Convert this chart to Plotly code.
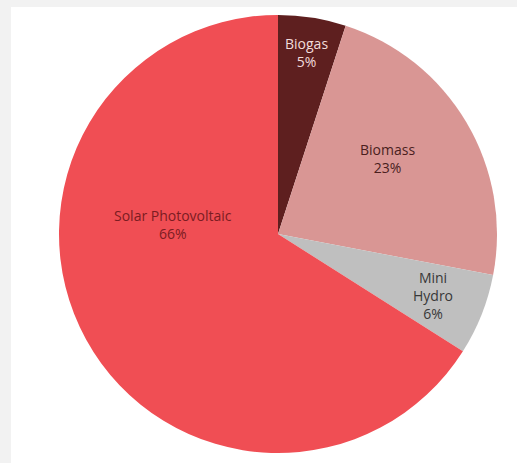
import math
import plotly.graph_objects as go

labels = ["Biogas", "Biomass", "Mini Hydro", "Solar Photovoltaic"]
display = ["Biogas", "Biomass", "Mini<br>Hydro", "Solar Photovoltaic"]
values = [5, 23, 6, 66]
colors = ["#5E1F1F", "#D99694", "#BFBFBF", "#F04E54"]
text_colors = ["#F2DCDB", "#4A1E1E", "#383838", "#7B1C22"]

# label placement style (fraction of radius, angle offset in degrees from slice mid-angle)
label_r = [0.84, 0.61, 0.76, 0.48]
label_da = [0, -4, 0, 34]

W, H = 517, 463
cx, cy, R = 278, 234, 219  # pixel geometry of the pie

fig = go.Figure()
fig.add_trace(go.Pie(
    labels=labels,
    values=values,
    sort=False,
    direction="clockwise",
    rotation=0,
    marker=dict(colors=colors, line=dict(width=0)),
    textinfo="none",
    showlegend=False,
    hoverinfo="label+percent",
    domain=dict(x=[(cx - R) / W, (cx + R) / W], y=[(H - cy - R) / H, (H - cy + R) / H]),
))

total = sum(values)
cum = 0
annotations = []
for lab, v, col, rf, da in zip(display, values, text_colors, label_r, label_da):
    mid = (cum + v / 2) / total * 360 + da
    cum += v
    px = cx + rf * R * math.sin(math.radians(mid))
    py = cy - rf * R * math.cos(math.radians(mid))
    pct = round(v / total * 100)
    annotations.append(dict(
        x=px / W, y=1 - py / H, xref="paper", yref="paper",
        text=f"{lab}<br>{pct}%", showarrow=False, align="center",
        xanchor="center", yanchor="middle",
        font=dict(family="Open Sans, sans-serif", size=14, color=col),
    ))

fig.update_layout(
    width=W, height=H,
    margin=dict(l=0, r=0, t=0, b=0),
    paper_bgcolor="#F2F2F2",
    annotations=annotations,
    shapes=[dict(type="rect", xref="paper", yref="paper", x0=11 / W, x1=1, y0=0, y1=1 - 7 / H,
                 fillcolor="white", line=dict(width=0), layer="below")],
)

fig.write_html("out.html")
